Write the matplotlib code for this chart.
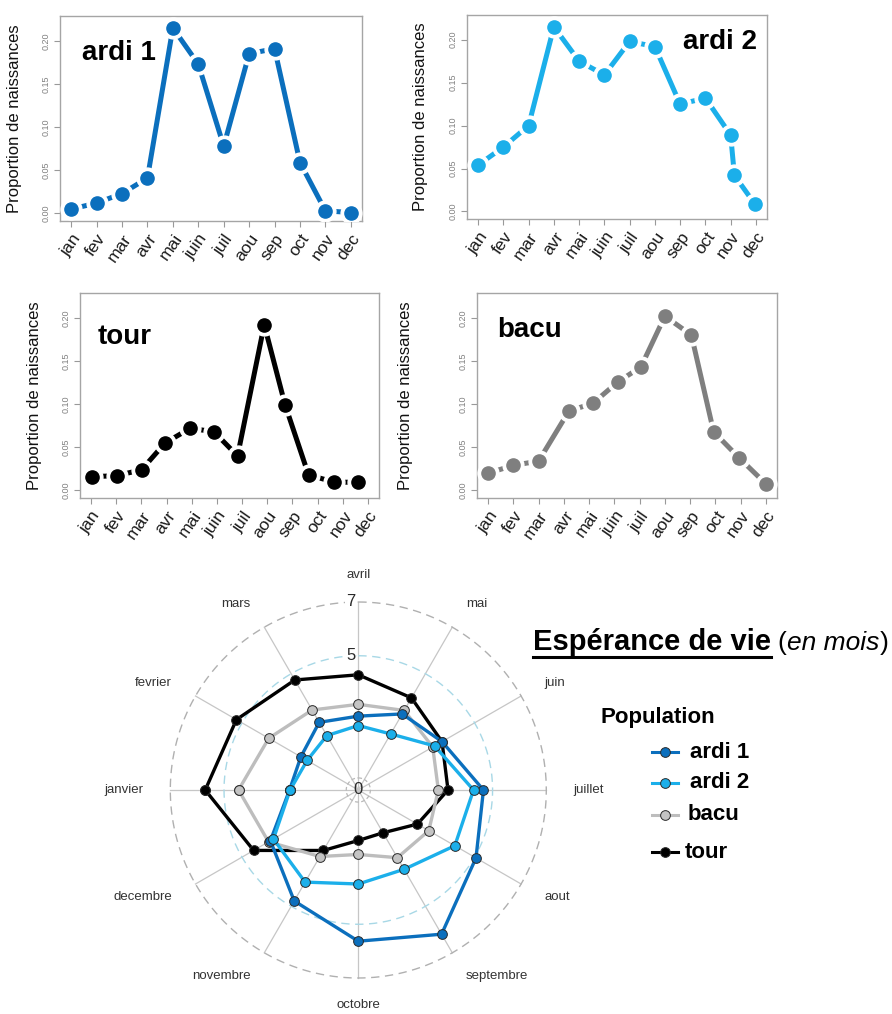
import numpy as np
import matplotlib
matplotlib.use('Agg')
import matplotlib.pyplot as plt
from matplotlib.lines import Line2D

plt.rcParams['font.family'] = ['Liberation Sans', 'DejaVu Sans']

mois_court = ['jan', 'fev', 'mar', 'avr', 'mai', 'juin', 'juil', 'aou', 'sep', 'oct', 'nov', 'dec']
mois_long = ['janvier', 'fevrier', 'mars', 'avril', 'mai', 'juin', 'juillet',
             'aout', 'septembre', 'octobre', 'novembre', 'decembre']
yticks = [0.0, 0.05, 0.10, 0.15, 0.20]
ytick_labels = ['0.00', '0.05', '0.10', '0.15', '0.20']

# proportion de naissances par mois
x_ardi1 = [1, 2, 3, 4, 5, 6, 7, 8, 9, 10, 11, 12]
naiss_ardi1 = [0.005, 0.012, 0.023, 0.041, 0.215, 0.173, 0.078, 0.185, 0.191, 0.059, 0.003, 0.001]
x_ardi2 = [1, 2, 3, 4, 5, 6, 7, 8, 9, 10, 11, 11.15, 11.95]
naiss_ardi2 = [0.054, 0.075, 0.100, 0.215, 0.175, 0.159, 0.198, 0.192, 0.125, 0.132, 0.089, 0.042, 0.009]
x_tour = [1.04, 2.02, 3.01, 3.94, 4.94, 5.88, 6.82, 7.88, 8.71, 9.64, 10.67, 11.62]
naiss_tour = [0.016, 0.017, 0.024, 0.055, 0.072, 0.068, 0.040, 0.192, 0.099, 0.018, 0.0095, 0.0095]
x_bacu = [1, 2, 3, 4.2, 5.15, 6.15, 7.05, 8, 9.05, 9.93, 10.93, 12]
naiss_bacu = [0.020, 0.029, 0.034, 0.092, 0.101, 0.126, 0.143, 0.202, 0.180, 0.068, 0.038, 0.0076]

# esperance de vie (en mois), janvier -> decembre
vie_ardi1 = [2.56, 2.47, 2.91, 2.75, 3.27, 3.60, 4.66, 5.06, 6.20, 5.63, 4.77, 3.78]
vie_ardi2 = [2.54, 2.20, 2.34, 2.40, 2.41, 3.28, 4.29, 4.15, 3.41, 3.50, 3.96, 3.65]
vie_bacu = [4.46, 3.85, 3.44, 3.19, 3.42, 3.20, 2.98, 3.03, 2.91, 2.40, 2.86, 3.86]
vie_tour = [5.70, 5.24, 4.73, 4.29, 3.96, 3.60, 3.34, 2.54, 1.84, 1.88, 2.60, 4.50]

c_ardi1 = '#0B6FBD'
c_ardi2 = '#1BAFEA'

W, H = 892, 1014
fig = plt.figure(figsize=(W / 100, H / 100), dpi=100)


def px(l, t, r, b):
    # pixel box -> figure fraction
    return [l / W, 1 - b / H, (r - l) / W, (b - t) / H]


def panneau(rect, xs, ys, couleur, nom, nx, ny, ha, ylab_x):
    ax = fig.add_axes(rect)
    ax.plot(xs, ys, color=couleur, lw=3.6, zorder=2)
    ax.plot(xs, ys, 'o', ms=15, color='white', zorder=3)
    ax.plot(xs, ys, 'o', ms=9.5, color=couleur, zorder=4)
    ax.set_xlim(0.56, 12.44)
    ax.set_ylim(-0.0088, 0.2288)
    ax.set_xticks(range(1, 13))
    ax.set_xticklabels(mois_court, rotation=55, ha='right', rotation_mode='anchor',
                       fontsize=12.5, color='#1A1A1A')
    ax.set_yticks(yticks)
    ax.set_yticklabels(ytick_labels, rotation=90, va='center', fontsize=6.5, color='#808080')
    ax.tick_params(color='#999999', length=4, width=0.8)
    ax.tick_params(axis='y', pad=3)
    for s in ax.spines.values():
        s.set_color('#A5A5A5')
        s.set_linewidth(1)
    ax.set_ylabel('Proportion de naissances', fontsize=12, color='#111111')
    ax.yaxis.set_label_coords(ylab_x, 0.5)
    ax.text(nx, ny, nom, transform=ax.transAxes, fontsize=20, fontweight='bold',
            ha=ha, va='center')
    return ax


panneau(px(60, 16, 362, 221), x_ardi1, naiss_ardi1, c_ardi1, 'ardi 1', 0.073, 0.82, 'left', -0.126)
panneau(px(467, 15, 767, 219), x_ardi2, naiss_ardi2, c_ardi2, 'ardi 2', 0.967, 0.87, 'right', -0.13)
panneau(px(80, 293, 379, 498), x_tour, naiss_tour, 'black', 'tour', 0.06, 0.785, 'left', -0.127)
panneau(px(477, 293, 777, 498), x_bacu, naiss_bacu, '#7F7F7F', 'bacu', 0.067, 0.82, 'left', -0.213)

# -------------------------
# radar esperance de vie
# -------------------------
cx, cy, r7 = 358.3, 790, 188
rmax = 9
rpx = r7 * rmax / 7
axr = fig.add_axes(px(cx - rpx, cy - rpx, cx + rpx, cy + rpx), projection='polar')
axr.set_theta_offset(np.pi / 2)
axr.set_theta_direction(-1)
axr.set_ylim(0, rmax)
axr.axis('off')

theta = (np.arange(12) - 3) * 2 * np.pi / 12
tt = np.linspace(0, 2 * np.pi, 400)
for th in theta:
    axr.plot([th, th], [0, 7], color='#C6C6C6', lw=0.9, zorder=1)
axr.plot(tt, np.full_like(tt, 7), color='#B0B0B0', lw=1, ls=(0, (6, 4)), zorder=1)
axr.plot(tt, np.full_like(tt, 5), color='#A8D8E6', lw=1, ls=(0, (6, 4)), zorder=1)
axr.plot(tt, np.full_like(tt, 0.45), color='#B8B8B8', lw=0.9, ls=(0, (3, 2)), zorder=1)

for val in (7, 5):
    axr.annotate(str(val), (0, val), xytext=(-2, 0), textcoords='offset points', ha='right',
                 va='center', fontsize=12, color='#2A2A2A',
                 bbox=dict(boxstyle='square,pad=0.05', fc='white', ec='none'))
axr.text(0, 0, '0', ha='center', va='center', fontsize=12, color='#2A2A2A', zorder=6)

for th, m in zip(theta, mois_long):
    s = np.sin(th)
    ha = 'left' if s > 0.1 else ('right' if s < -0.1 else 'center')
    axr.text(th, 8.0, m, ha=ha, va='center', fontsize=9.5, color='#333333')

th_c = np.append(theta, theta[0])
series = [
    (vie_tour, 'black', 'black'),
    (vie_bacu, '#BDBDBD', '#C4C4C4'),
    (vie_ardi1, c_ardi1, c_ardi1),
    (vie_ardi2, c_ardi2, c_ardi2),
]
for vals, lc, mc in series:
    v = np.append(vals, vals[0])
    axr.plot(th_c, v, color=lc, lw=2.4, marker='o', ms=7, mfc=mc,
             mec='#2A2A2A', mew=0.7, zorder=3, clip_on=False)

# -------------------------
# titre + legende
# -------------------------
yb = 1 - 650 / H
t1 = fig.text(533 / W, yb, 'Espérance de vie', fontsize=21, fontweight='bold', va='baseline')
fig.canvas.draw()
inv = fig.transFigure.inverted()
bb = t1.get_window_extent().transformed(inv)
fig.add_artist(Line2D([bb.x0, bb.x1], [1 - 657 / H, 1 - 657 / H], color='black', lw=2.2))
t2 = fig.text(bb.x1 + 6 / W, yb, '(', fontsize=19, va='baseline')
fig.canvas.draw()
bb2 = t2.get_window_extent().transformed(inv)
t3 = fig.text(bb2.x1 + 1 / W, yb, 'en mois', fontsize=19, style='italic', va='baseline')
fig.canvas.draw()
bb3 = t3.get_window_extent().transformed(inv)
fig.text(bb3.x1 + 1 / W, yb, ')', fontsize=19, va='baseline')

fig.text(600 / W, 1 - 718 / H, 'Population', fontsize=16, fontweight='bold', va='center')
leg = [
    ('ardi 1', c_ardi1, c_ardi1, 752, 690),
    ('ardi 2', c_ardi2, c_ardi2, 783, 690),
    ('bacu', '#BDBDBD', '#C4C4C4', 815, 688),
    ('tour', 'black', 'black', 852, 685),
]
for lab, lc, mc, y, xt in leg:
    yf = 1 - y / H
    fig.add_artist(Line2D([652 / W, 678 / W], [yf, yf], color=lc, lw=2.2))
    fig.add_artist(Line2D([665 / W], [yf], marker='o', ms=7, mfc=mc, mec='#2A2A2A', mew=0.7))
    fig.text(xt / W, yf, lab, fontsize=16, fontweight='bold', va='center')

fig.savefig('out.png', dpi=100)
